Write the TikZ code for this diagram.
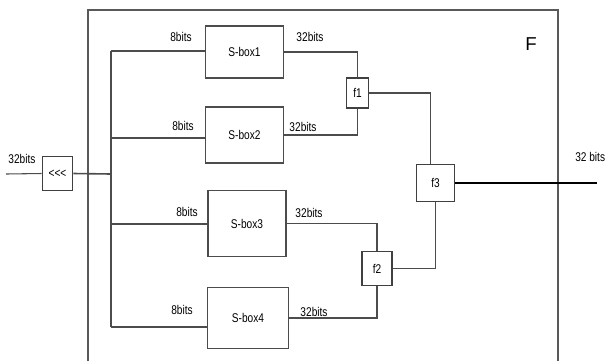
\documentclass[tikz,border=0pt]{standalone}
\usepackage{fontspec}
\setmainfont{Liberation Sans}
\newfontfamily\lblfont[FakeStretch=0.8]{Liberation Sans}
\usepackage{tikz}
\usetikzlibrary{calc}

\tikzset{
  wire/.style={draw=black!70, line width=0.8pt},
  sbox/.style={draw=black!70, line width=0.9pt, inner sep=0pt, font=\lblfont\fontsize{9.5}{10}\selectfont},
  fbox/.style={draw=black!75, line width=0.9pt, inner sep=0pt, font=\lblfont\fontsize{9.5}{10}\selectfont},
  bits/.style={inner sep=0pt, font=\lblfont\fontsize{9.5}{10}\selectfont}
}

\begin{document}
\begin{tikzpicture}[x=0.75pt,y=-0.75pt]
  \useasboundingbox (0,0) rectangle (609,361);
  % outer frame F
  \draw[draw=black!65, line width=0.9pt] (88,361) -- (88,10) -- (558,10) -- (558,361);
  \node (lf) at (531,44) {\fontsize{14}{14}\selectfont F};

  % rotation box and input
  \node[fbox, minimum width=23pt, minimum height=25pt] (rot) at (57.5,173.5) {<<<};
  \coordinate (src) at (6,174);
  \node[bits] (lin) at (22,159) {32bits};
  \draw[wire] (src) -- (rot.west);

  % s-boxes
  \node[sbox, minimum width=59pt, minimum height=39pt] (sb1) at (244.5,52) {S-box1};
  \node[sbox, minimum width=59pt, minimum height=42pt] (sb2) at (244.5,135) {S-box2};
  \node[sbox, minimum width=58.5pt, minimum height=49pt] (sb3) at (247,223.5) {S-box3};
  \node[sbox, minimum width=61pt, minimum height=46pt] (sb4) at (248,318) {S-box4};

  % f boxes
  \node[fbox, minimum width=17pt, minimum height=22.5pt] (f1) at (357.5,93) {f1};
  \node[fbox, minimum width=22.5pt, minimum height=25pt] (f2) at (377,268.5) {f2};
  \node[fbox, minimum width=28pt, minimum height=28pt] (f3) at (435.5,183) {f3};

  % bus to the s-boxes
  \coordinate (bin) at (111,174);
  \coordinate (b1) at (111,51);
  \coordinate (b2) at (111,138);
  \coordinate (b3) at (111,224);
  \coordinate (b4) at (111,327);
  \draw[wire, line width=1.2pt] (rot.east) -- (bin);
  \draw[wire] (b1) -- (b4);
  \draw[wire] (b1) -- (b1 -| sb1.west);
  \draw[wire] (b2) -- (b2 -| sb2.west);
  \draw[wire, line width=1.2pt] (b3) -- (b3 -| sb3.west);
  \draw[wire] (b4) -- (b4 -| sb4.west);
  \node[bits] (l1in) at (181,37) {8bits};
  \node[bits] (l2in) at (183,126) {8bits};
  \node[bits] (l3in) at (187,212) {8bits};
  \node[bits] (l4in) at (182,310) {8bits};

  % s-box outputs into f1, f2
  \draw[wire] (sb1.east) -| (f1.north);
  \draw[wire] (sb2.east) -| (f1.south);
  \draw[wire] (sb3.east) -| (f2.north);
  \draw[wire] (sb4.east) -| (f2.south);
  \node[bits] (l1out) at (310,37) {32bits};
  \node[bits] (l2out) at (303,127) {32bits};
  \node[bits] (l3out) at (309,213) {32bits};
  \node[bits] (l4out) at (314,312) {32bits};

  % f1, f2 into f3 and output
  \draw[wire] (f1.east) -| ([xshift=-4pt]f3.north);
  \draw[wire] (f2.east) -| (f3.south);
  \coordinate (dst) at (597,183);
  \draw[line width=2pt] (f3.east) -- (dst);
  \node[bits, anchor=west] (lout) at (575,157) {32 bits};
\end{tikzpicture}
\end{document}
